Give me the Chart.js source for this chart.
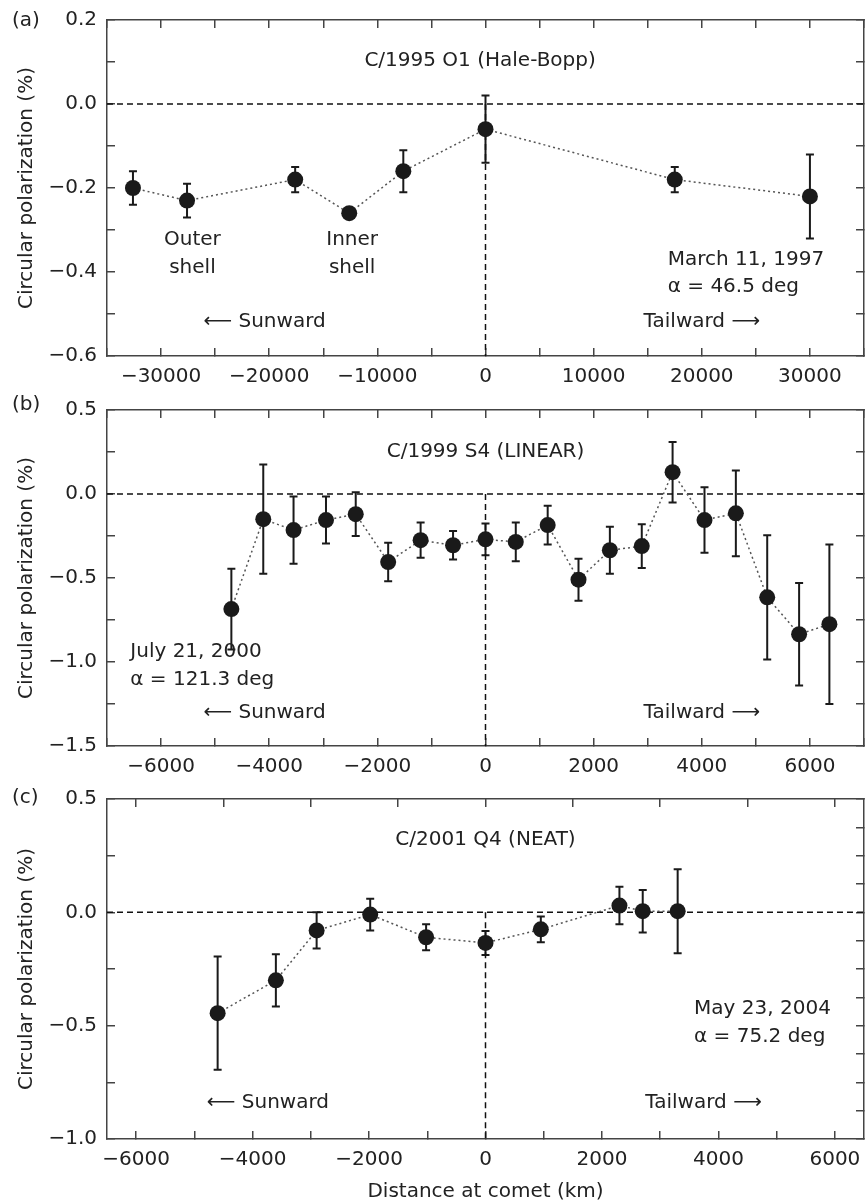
<!DOCTYPE html>
<html>
<head>
<meta charset="utf-8">
<script src="https://cdn.jsdelivr.net/npm/chart.js@4.4.1/dist/chart.umd.min.js"></script>
<style>
  body { margin: 0; background: #fff; overflow: hidden; }
  canvas { position: absolute; left: 0; }
</style>
</head>
<body>
<canvas id="chartA" width="865" height="390" style="top:0px"></canvas>
<canvas id="chartB" width="865" height="390" style="top:390px"></canvas>
<canvas id="chartC" width="865" height="424" style="top:780px"></canvas>
<script>
// (a) C/1995 O1 (Hale-Bopp)
const aDist = [-32600, -27600, -17600, -12600, -7600, 0, 17500, 30000]
const aPol = [-0.20, -0.23, -0.18, -0.26, -0.16, -0.06, -0.18, -0.22]
const aErr = [0.04, 0.04, 0.03, 0.01, 0.05, 0.08, 0.03, 0.10]

// (b) C/1999 S4 (LINEAR)
const bDist = [-4700, -4110, -3550, -2950, -2400, -1800, -1200, -600, 0, 560,
  1150, 1720, 2300, 2890, 3460, 4050, 4630, 5210, 5800, 6360]
const bPol = [-0.685, -0.15, -0.215, -0.155, -0.12, -0.405, -0.275, -0.305, -0.27, -0.285,
  -0.185, -0.51, -0.335, -0.31, 0.13, -0.155, -0.115, -0.615, -0.835, -0.775]
const bErr = [0.24, 0.325, 0.2, 0.14, 0.13, 0.115, 0.105, 0.085, 0.095, 0.115,
  0.115, 0.125, 0.14, 0.13, 0.18, 0.195, 0.255, 0.37, 0.305, 0.475]

// (c) C/2001 Q4 (NEAT)
const cDist = [-4600, -3600, -2900, -1980, -1020, 0, 950, 2300, 2700, 3300]
const cPol = [-0.445, -0.30, -0.08, -0.01, -0.11, -0.135, -0.075, 0.03, 0.005, 0.005]
const cErr = [0.25, 0.115, 0.08, 0.07, 0.057, 0.053, 0.057, 0.083, 0.094, 0.185]

const FONT = "'DejaVu Sans', sans-serif"
const INK = "#222"
const FRAME = "#444"

Chart.defaults.font.family = FONT
Chart.defaults.font.size = 20
Chart.defaults.color = INK

function fmtNum(v, digits) {
  const s = Math.abs(v).toFixed(digits)
  return (v < -1e-9 ? "\u2212" : "") + s
}

// ticks on whole multiples of the step, whatever the axis ends are
function stepTicks(step) {
  return s => {
    const out = []
    const first = Math.ceil(s.min / step - 1e-9)
    for (let k = first; k * step <= s.max + 1e-9; k++) out.push({ value: +(k * step).toFixed(6) })
    s.ticks = out
  }
}

function noPad(s) {
  s.paddingLeft = 0; s.paddingRight = 0; s.paddingTop = 0; s.paddingBottom = 0
}

// error bars drawn from the y scale
const errorBars = {
  id: "errorBars",
  beforeDatasetsDraw(chart) {
    const { ctx, scales: { x, y } } = chart
    chart.data.datasets.forEach(ds => {
      if (!ds.errors) return
      ctx.save()
      ctx.strokeStyle = "#1a1a1a"
      ctx.lineWidth = 2
      ds.data.forEach((p, i) => {
        const px = x.getPixelForValue(p.x)
        const top = y.getPixelForValue(p.y + ds.errors[i])
        const bot = y.getPixelForValue(p.y - ds.errors[i])
        ctx.beginPath()
        ctx.moveTo(px, top); ctx.lineTo(px, bot)
        ctx.moveTo(px - 4, top); ctx.lineTo(px + 4, top)
        ctx.moveTo(px - 4, bot); ctx.lineTo(px + 4, bot)
        ctx.stroke()
      })
      ctx.restore()
    })
  }
}

// text annotations placed in data coordinates
const notes = {
  id: "notes",
  afterDraw(chart, args, opts) {
    const { ctx, scales: { x, y } } = chart
    ctx.save()
    ctx.fillStyle = INK
    ctx.font = "20px " + FONT
    ctx.textBaseline = "middle"
    opts.items.forEach(n => {
      ctx.textAlign = n.align || "left"
      ctx.fillText(n.text, x.getPixelForValue(n.x), y.getPixelForValue(n.y))
    })
    ctx.textAlign = "left"
    ctx.fillText(opts.letter, 12, opts.letterY)
    ctx.restore()
  }
}

function makePanel(id, p) {
  const canvas = document.getElementById(id)
  const H = canvas.height
  const tickGrid = { drawOnChartArea: false, drawTicks: true, tickLength: -8, color: FRAME, lineWidth: 1.5 }
  const border = { color: FRAME, width: 1.5 }

  return new Chart(canvas, {
    type: "scatter",
    data: {
      datasets: [
        {
          data: p.dist.map((d, i) => ({ x: d, y: p.pol[i] })),
          errors: p.err,
          showLine: true,
          borderColor: "#555",
          borderWidth: 1.5,
          borderDash: [2, 3],
          pointRadius: 8,
          pointBackgroundColor: "#1a1a1a",
          pointBorderWidth: 0,
          order: 0,
        },
        {
          data: [{ x: p.xMin, y: 0 }, { x: p.xMax, y: 0 }],
          showLine: true,
          borderColor: "#111",
          borderWidth: 1.5,
          borderDash: [6, 4],
          pointRadius: 0,
          order: 1,
        },
        {
          data: [{ x: 0, y: 0 }, { x: 0, y: p.yMin }],
          showLine: true,
          borderColor: "#111",
          borderWidth: 1.5,
          borderDash: [6, 4],
          pointRadius: 0,
          order: 2,
        },
      ],
    },
    options: {
      responsive: false,
      animation: false,
      events: [],
      devicePixelRatio: 1,
      layout: { padding: 0, autoPadding: false },
      plugins: {
        legend: { display: false },
        tooltip: { enabled: false },
        notes: { items: p.notes, letter: p.letter, letterY: p.letterY },
      },
      scales: {
        x: {
          type: "linear", position: "bottom",
          min: p.xMin, max: p.xMax,
          grid: tickGrid, border,
          ticks: {
            padding: 17, maxRotation: 0, autoSkip: false,
            callback: v => (Math.round(v / p.xStep) % p.xLabelEvery === 0 ? fmtNum(v, 0) : ""),
          },
          afterBuildTicks: stepTicks(p.xStep),
          title: { display: !!p.xTitle, text: p.xTitle, padding: { top: 0, bottom: 0 } },
          afterFit: s => { s.height = H - p.plotBottom; noPad(s) },
        },
        xTop: {
          type: "linear", position: "top",
          min: p.xMin, max: p.xMax,
          grid: tickGrid, border,
          ticks: { display: false, autoSkip: false },
          afterBuildTicks: stepTicks(p.topStep),
          afterFit: s => { s.height = p.plotTop; noPad(s) },
        },
        y: {
          type: "linear", position: "left",
          min: p.yMin, max: p.yMax,
          grid: tickGrid, border,
          ticks: {
            padding: 18, autoSkip: false,
            callback: v => (Math.round(v / p.yStep) % p.yLabelEvery === 0 ? fmtNum(v, 1) : ""),
          },
          afterBuildTicks: stepTicks(p.yStep),
          title: { display: true, text: "Circular polarization (%)", padding: { top: 15, bottom: 0 } },
          afterFit: s => { s.width = 107; noPad(s) },
        },
        yRight: {
          type: "linear", position: "right",
          min: p.yMin, max: p.yMax,
          grid: tickGrid, border,
          ticks: { display: false, autoSkip: false },
          afterBuildTicks: stepTicks(p.rightStep),
          afterFit: s => { s.width = 1; noPad(s) },
        },
      },
    },
    plugins: [errorBars, notes],
  })
}

makePanel("chartA", {
  dist: aDist, pol: aPol, err: aErr,
  xMin: -35000, xMax: 35000, xStep: 5000, xLabelEvery: 2, topStep: 5000,
  yMin: -0.6, yMax: 0.2, yStep: 0.1, yLabelEvery: 2, rightStep: 0.1,
  plotTop: 20, plotBottom: 356,
  letter: "(a)", letterY: 21,
  notes: [
    { text: "C/1995 O1 (Hale-Bopp)", x: -500, y: 0.102, align: "center" },
    { text: "Outer", x: -27100, y: -0.324, align: "center" },
    { text: "shell", x: -27100, y: -0.39, align: "center" },
    { text: "Inner", x: -12330, y: -0.324, align: "center" },
    { text: "shell", x: -12330, y: -0.39, align: "center" },
    { text: "March 11, 1997", x: 16850, y: -0.371 },
    { text: "\u03b1 = 46.5 deg", x: 16850, y: -0.436 },
    { text: "\u27f5 Sunward", x: -26080, y: -0.519 },
    { text: "Tailward \u27f6", x: 14620, y: -0.519 },
  ],
})

makePanel("chartB", {
  dist: bDist, pol: bPol, err: bErr,
  xMin: -7000, xMax: 7000, xStep: 1000, xLabelEvery: 2, topStep: 1000,
  yMin: -1.5, yMax: 0.5, yStep: 0.25, yLabelEvery: 2, rightStep: 0.25,
  plotTop: 20, plotBottom: 356,
  letter: "(b)", letterY: 15,
  notes: [
    { text: "C/1999 S4 (LINEAR)", x: 0, y: 0.252, align: "center" },
    { text: "July 21, 2000", x: -6569, y: -0.939 },
    { text: "\u03b1 = 121.3 deg", x: -6569, y: -1.103 },
    { text: "\u27f5 Sunward", x: -5217, y: -1.305 },
    { text: "Tailward \u27f6", x: 2924, y: -1.305 },
  ],
})

makePanel("chartC", {
  dist: cDist, pol: cPol, err: cErr,
  xMin: -6500, xMax: 6500, xStep: 1000, xLabelEvery: 2, topStep: 1500,
  yMin: -1.0, yMax: 0.5, yStep: 0.25, yLabelEvery: 2, rightStep: 0.125,
  plotTop: 19, plotBottom: 359,
  letter: "(c)", letterY: 18,
  xTitle: "Distance at comet (km)",
  notes: [
    { text: "C/2001 Q4 (NEAT)", x: 0, y: 0.321, align: "center" },
    { text: "May 23, 2004", x: 3582, y: -0.427 },
    { text: "\u03b1 = 75.2 deg", x: 3582, y: -0.55 },
    { text: "\u27f5 Sunward", x: -4787, y: -0.842 },
    { text: "Tailward \u27f6", x: 2745, y: -0.842 },
  ],
})
</script>
</body>
</html>
